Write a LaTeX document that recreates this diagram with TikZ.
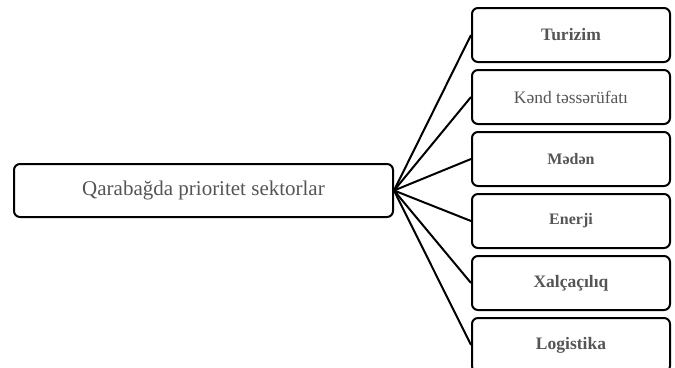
\documentclass[tikz,border=0pt]{standalone}
\usepackage{fontspec}
\setmainfont{Liberation Serif}
\usetikzlibrary{positioning}
\definecolor{labelgray}{HTML}{555555}

\begin{document}
\begin{tikzpicture}[x=1pt,y=-1pt,
    box/.style={draw,line width=2pt,rounded corners=6pt,inner sep=0pt,
        text=labelgray,align=center},
    sector/.style={box,minimum width=198pt,minimum height=54pt,font=\fontsize{17.5}{20}\selectfont\bfseries},
    link/.style={line width=2pt}]
    \clip (0,0) rectangle (675,367);

    % 中心方框
    \node[box,minimum width=379pt,minimum height=53pt,font=\fontsize{21}{25}\selectfont] (main) at (203.5,190.5) {Qarabağda prioritet sektorlar};

    % 六个部门
    \node[sector] (turizim) at (571,35) {Turizim};
    \node[sector,font=\fontsize{17.5}{20}\selectfont] (kend) at (571,97) {Kənd təssərüfatı};
    \node[sector,font=\fontsize{16}{18}\selectfont\bfseries] (meden) at (571,159) {Mədən};
    \node[sector,font=\fontsize{16}{18}\selectfont\bfseries] (enerji) at (571,221) {Enerji};
    \node[sector] (xalca) at (571,283) {Xalçaçılıq};
    \node[sector] (logistika) at (571,345) {Logistika};

    % 连线
    \draw[link] (main.east) -- (turizim.west);
    \draw[link] (main.east) -- (kend.west);
    \draw[link] (main.east) -- (meden.west);
    \draw[link] (main.east) -- (enerji.west);
    \draw[link] (main.east) -- (xalca.west);
    \draw[link] (main.east) -- (logistika.west);
\end{tikzpicture}
\end{document}
